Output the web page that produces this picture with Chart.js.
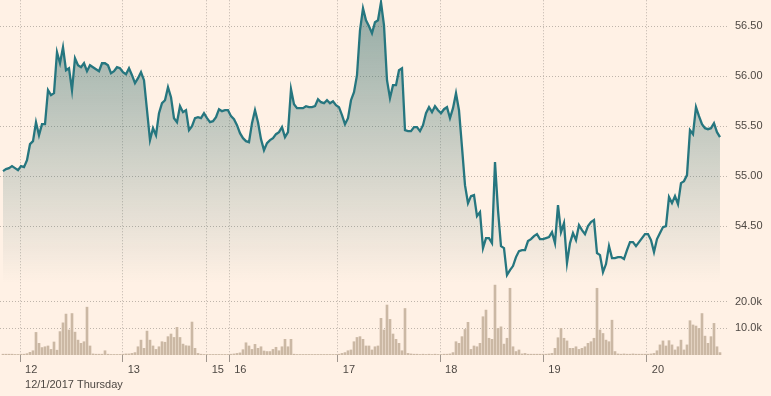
<!DOCTYPE html>
<html><head><meta charset="utf-8">
<script src="https://cdn.jsdelivr.net/npm/chart.js@4/dist/chart.umd.min.js"></script>
<style>
html,body{margin:0;padding:0;background:#fff1e5;}
#wrap{width:771px;height:396px;position:relative;}
canvas{display:block;}
</style></head><body>
<div id="wrap"><canvas id="c" width="771" height="396"></canvas></div>
<script>
// session tick positions (in sample slots) and their labels
const dayTickPos = [5.67, 39.9, 67.9, 75.4, 111.6, 145.7, 180.1, 214.6];
const dayTickLabels = ['12', '13', '15', '16', '17', '18', '19', '20'];
const firstDateLabel = '12/1/2017 Thursday';
const priceTicks = [54.5, 55, 55.5, 56, 56.5];
const volumeTicksK = [10, 20];

const prices = [
  55.05, 55.07, 55.08, 55.10, 55.08, 55.06, 55.10, 55.09, 55.16, 55.32,
  55.35, 55.54, 55.41, 55.52, 55.52, 55.86, 55.81, 55.83, 56.24, 56.13,
  56.29, 56.06, 56.08, 55.86, 56.18, 56.11, 56.09, 56.13, 56.05, 56.11,
  56.09, 56.07, 56.05, 56.13, 56.13, 56.11, 56.03, 56.05, 56.09, 56.08,
  56.04, 56.02, 56.08, 56.01, 55.93, 55.98, 56.04, 55.96, 55.66, 55.36,
  55.48, 55.41, 55.63, 55.73, 55.76, 55.89, 55.79, 55.58, 55.54, 55.70,
  55.64, 55.66, 55.46, 55.50, 55.58, 55.59, 55.58, 55.63, 55.58, 55.54,
  55.55, 55.59, 55.67, 55.65, 55.66, 55.66, 55.60, 55.57, 55.51, 55.43,
  55.38, 55.35, 55.34, 55.53, 55.66, 55.54, 55.37, 55.26, 55.33, 55.36,
  55.38, 55.42, 55.44, 55.49, 55.39, 55.44, 55.87, 55.72, 55.68, 55.68,
  55.68, 55.70, 55.69, 55.69, 55.70, 55.77, 55.74, 55.73, 55.76, 55.73,
  55.75, 55.71, 55.69, 55.61, 55.52, 55.58, 55.76, 55.84, 56.01, 56.46,
  56.68, 56.56, 56.50, 56.43, 56.54, 56.56, 56.74, 56.51, 55.96, 55.78,
  55.91, 55.91, 56.06, 56.08, 55.46, 55.45, 55.45, 55.49, 55.49, 55.45,
  55.51, 55.63, 55.69, 55.64, 55.70, 55.66, 55.63, 55.67, 55.69, 55.58,
  55.68, 55.83, 55.66, 55.29, 54.91, 54.73, 54.80, 54.81, 54.60, 54.64,
  54.28, 54.38, 54.38, 54.33, 55.14, 54.66, 54.30, 54.28, 54.01, 54.06,
  54.10, 54.19, 54.25, 54.26, 54.26, 54.35, 54.37, 54.40, 54.42, 54.37,
  54.37, 54.38, 54.39, 54.44, 54.33, 54.71, 54.44, 54.53, 54.13, 54.33,
  54.43, 54.36, 54.51, 54.46, 54.42, 54.50, 54.54, 54.56, 54.23, 54.21,
  54.04, 54.12, 54.30, 54.18, 54.18, 54.19, 54.19, 54.17, 54.26, 54.34,
  54.34, 54.30, 54.34, 54.38, 54.42, 54.42, 54.36, 54.24, 54.37, 54.43,
  54.49, 54.50, 54.79, 54.73, 54.80, 54.72, 54.93, 54.95, 55.01, 55.46,
  55.42, 55.69, 55.60, 55.52, 55.48, 55.47, 55.48, 55.53, 55.44, 55.39
];

const volumeK = [
  0.3, 0.3, 0.3, 0.3, 0.2, 0.2, 0.3, 0.3, 0.5, 1.0,
  1.6, 8.5, 4.4, 2.8, 3.1, 3.4, 2.1, 4.9, 1.8, 8.8,
  12.1, 15.4, 9.4, 15.6, 8.6, 5.6, 4.4, 5.0, 18.0, 3.4,
  0.4, 0.3, 0.3, 0.3, 1.6, 0.3, 0.2, 0.2, 0.2, 0.2,
  0.3, 0.4, 0.4, 0.6, 0.9, 3.1, 5.6, 2.5, 9.0, 5.6,
  3.4, 2.1, 3.1, 5.0, 4.8, 6.9, 7.9, 6.6, 10.4, 6.6,
  4.1, 3.5, 3.4, 12.4, 2.5, 0.6, 0.3, 0.2, 0.2, 0.2,
  0.2, 0.2, 0.2, 0.2, 0.2, 0.2, 0.3, 0.4, 0.6, 0.8,
  2.0, 4.6, 3.4, 2.1, 4.0, 2.5, 3.1, 1.5, 1.3, 1.3,
  2.1, 2.9, 1.6, 3.1, 5.9, 3.1, 5.9, 0.3, 0.2, 0.2,
  0.2, 0.2, 0.2, 0.2, 0.2, 0.2, 0.2, 0.2, 0.2, 0.2,
  0.2, 0.2, 0.3, 0.6, 0.9, 1.6, 1.9, 5.0, 6.6, 6.9,
  5.9, 3.4, 3.4, 1.9, 3.1, 3.4, 13.8, 9.4, 18.8, 13.4,
  7.9, 5.9, 4.4, 1.6, 17.5, 0.6, 0.4, 0.3, 0.3, 0.2,
  0.3, 0.2, 0.3, 0.2, 0.3, 0.2, 0.2, 0.3, 0.3, 0.4,
  0.9, 5.0, 4.4, 6.9, 9.6, 12.3, 2.1, 3.4, 3.1, 4.4,
  14.4, 16.9, 6.3, 5.9, 26.3, 10.0, 10.6, 4.1, 6.3, 25.1,
  3.1, 1.3, 1.9, 0.4, 0.6, 0.3, 0.3, 0.3, 0.3, 0.3,
  0.3, 0.3, 0.4, 0.6, 2.5, 6.5, 10.0, 6.3, 5.3, 2.5,
  2.5, 3.1, 2.1, 2.5, 3.1, 4.4, 5.0, 6.3, 25.1, 9.4,
  8.1, 5.6, 5.0, 13.1, 1.3, 0.4, 0.3, 0.4, 0.3, 0.3,
  0.4, 0.3, 0.3, 0.3, 0.3, 0.3, 0.4, 0.6, 1.6, 3.8,
  5.3, 3.4, 5.4, 3.8, 1.9, 3.1, 5.6, 1.9, 3.8, 12.9,
  11.3, 10.9, 10.0, 15.6, 7.1, 4.4, 6.9, 11.9, 3.1, 0.9
];

Chart.defaults.font.family = "'Liberation Sans', Arial, sans-serif";
Chart.defaults.font.size = 11;
Chart.defaults.color = '#4e4843';

const GRID = '#bfb5ab';
const LINE = '#26767f';

function priceFill(ctx) {
  const chart = ctx.chart;
  const s = chart.scales && chart.scales.price;
  if (!s || !chart.chartArea) return 'rgba(40,100,100,0.25)';
  const g = chart.ctx.createLinearGradient(0, s.top, 0, s.bottom);
  g.addColorStop(0, 'rgba(40,100,100,0.50)');
  g.addColorStop(1, 'rgba(40,100,100,0.0)');
  return g;
}

const slots = prices.map((_, i) => i);

new Chart(document.getElementById('c'), {
  data: {
    datasets: [
      {
        type: 'line', label: 'Price', yAxisID: 'price',
        data: slots.map(i => ({ x: i, y: prices[i] })),
        borderColor: LINE, borderWidth: 2.3, pointRadius: 0, tension: 0,
        fill: 'start', backgroundColor: priceFill, clip: false, order: 0
      },
      {
        type: 'bar', label: 'Volume', yAxisID: 'volume',
        data: slots.map(i => ({ x: i, y: volumeK[i] })),
        backgroundColor: '#cbb8a4', barThickness: 2, order: 1
      }
    ]
  },
  options: {
    responsive: false, animation: false,
    layout: { padding: 0 },
    plugins: { legend: { display: false }, tooltip: { enabled: false } },
    scales: {
      x: {
        type: 'linear', position: 'bottom', min: -1, max: 241.67, offset: false,
        afterBuildTicks: s => { s.ticks = dayTickPos.map(v => ({ value: v })); },
        afterFit: s => { s.height = 41; },
        ticks: {
          autoSkip: false, maxRotation: 0, align: 'start', labelOffset: 5, padding: 1,
          font: { size: 11, lineHeight: 1.33 },
          callback: (v, i) => i === 0 ? [dayTickLabels[i], firstDateLabel] : dayTickLabels[i]
        },
        grid: { offset: false, color: GRID, drawTicks: true, tickLength: 7, tickColor: '#9f968e', tickBorderDash: [] },
        border: { display: false, dash: [1, 2] }
      },
      price: {
        type: 'linear', position: 'right', stack: 'v', stackWeight: 283,
        min: 53.93, max: 56.76,
        afterBuildTicks: s => { s.ticks = priceTicks.map(v => ({ value: v })); },
        afterFit: s => { s.width = 43; },
        ticks: { padding: 0, font: { size: 11, lineHeight: 0.05 }, callback: v => Number(v).toFixed(2) },
        grid: { color: GRID, drawTicks: true, tickLength: 7, tickColor: 'rgba(0,0,0,0)' },
        border: { display: false, dash: [1, 2] }
      },
      volume: {
        type: 'linear', position: 'right', stack: 'v', stackWeight: 72,
        min: 0, max: 27.07,
        afterBuildTicks: s => { s.ticks = volumeTicksK.map(v => ({ value: v })); },
        afterFit: s => { s.width = 43; },
        ticks: { padding: 0, font: { size: 11, lineHeight: 0.05 }, callback: v => Number(v).toFixed(1) + 'k' },
        grid: { color: GRID, drawTicks: true, tickLength: 7, tickColor: 'rgba(0,0,0,0)' },
        border: { display: false, dash: [1, 2] }
      }
    }
  }
});
</script>
</body></html>
